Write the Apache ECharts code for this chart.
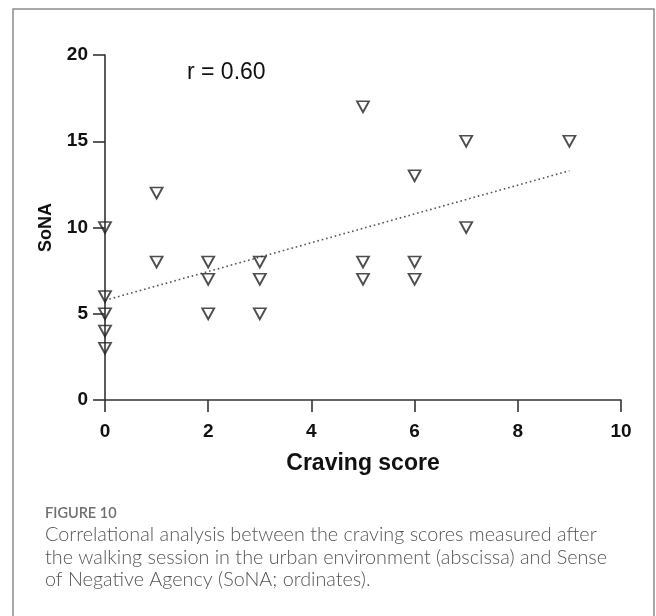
<!DOCTYPE html>
<html>
<head>
<meta charset="utf-8">
<script src="https://cdn.jsdelivr.net/npm/echarts@6/dist/echarts.min.js"></script>
<style>
  html, body { margin: 0; padding: 0; background: #ffffff; }
  #chart { width: 656px; height: 616px; }
</style>
</head>
<body>
<div id="chart"></div>
<script>
// Craving score (abscissa) and SoNA (ordinates), one entry per participant
const cravingScore = [0, 0, 0, 0, 0, 1, 1, 2, 2, 2, 3, 3, 3, 5, 5, 5, 6, 6, 6, 7, 7, 9];
const sonaScore    = [10, 6, 5, 4, 3, 12, 8, 8, 7, 5, 8, 7, 5, 17, 8, 7, 13, 8, 7, 15, 10, 15];

// Fitted regression line end points
const trendX = [0, 9];
const trendY = [5.78, 13.29];

// Axis ranges and tick steps
const xRange = [0, 10];
const xStep = 2;
const yRange = [0, 20];
const yStep = 5;

const corrLabel = 'r = 0.60';
const captionTitle = 'FIGURE 10';
const captionLines = [
  'Correlational analysis between the craving scores measured after',
  'the walking session in the urban environment (abscissa) and Sense',
  'of Negative Agency (SoNA; ordinates).'
];

const points = cravingScore.map((x, i) => [x, sonaScore[i]]);
const trend = trendX.map((x, i) => [x, trendY[i]]);

const axisColor = '#333333';
const axisFont = '"Liberation Sans", Arial, sans-serif';

const chart = echarts.init(document.getElementById('chart'), null, { renderer: 'canvas' });

const captionGraphics = [
  {
    type: 'text', left: 45, top: 506,
    style: { text: captionTitle, font: '600 14.5px Lato, "Open Sans", sans-serif', fill: '#707070' }
  }
].concat(captionLines.map((line, i) => ({
  type: 'text', left: 45, top: 525 + i * 22.3,
  style: { text: line, font: '300 19.8px Lato, "Open Sans", sans-serif', fill: '#555555' }
})));

chart.setOption({
  animation: false,
  backgroundColor: '#ffffff',
  grid: { left: 105, right: 35, top: 55, bottom: 216, containLabel: false },
  xAxis: {
    type: 'value',
    min: xRange[0], max: xRange[1], interval: xStep,
    name: 'Craving score',
    nameLocation: 'middle',
    nameGap: 52,
    nameTextStyle: { fontFamily: axisFont, fontWeight: 'bold', fontSize: 23, color: '#111' },
    axisLine: { show: true, onZero: false, lineStyle: { color: axisColor, width: 1.6 } },
    axisTick: { show: true, length: 12, lineStyle: { color: axisColor, width: 1.6 } },
    axisLabel: { margin: 22, fontFamily: axisFont, fontWeight: 'bold', fontSize: 19, color: '#111' },
    splitLine: { show: false }
  },
  yAxis: {
    type: 'value',
    min: yRange[0], max: yRange[1], interval: yStep,
    name: 'SoNA',
    nameLocation: 'middle',
    nameGap: 50,
    nameRotate: 90,
    nameTextStyle: { fontFamily: axisFont, fontWeight: 'bold', fontSize: 18, color: '#111' },
    axisLine: { show: true, onZero: false, lineStyle: { color: axisColor, width: 1.6 } },
    axisTick: { show: true, length: 12, lineStyle: { color: axisColor, width: 1.6 } },
    axisLabel: { margin: 17, fontFamily: axisFont, fontWeight: 'bold', fontSize: 19, color: '#111' },
    splitLine: { show: false }
  },
  series: [
    {
      name: 'fit',
      type: 'line',
      data: trend,
      showSymbol: false,
      silent: true,
      lineStyle: { color: '#555555', width: 1.6, type: [1.6, 2.9] },
      z: 1
    },
    {
      name: 'participants',
      type: 'scatter',
      data: points,
      clip: false,
      symbol: 'path://M0,0 L12,0 L6,10 Z',
      symbolSize: [12, 11],
      itemStyle: { color: 'rgba(0,0,0,0)', borderColor: '#222222', borderWidth: 1.8 },
      z: 3
    }
  ],
  graphic: [
    {
      type: 'rect', silent: true, z: -10,
      shape: { x: 13, y: 9, width: 641, height: 700 },
      style: { fill: 'none', stroke: '#8c8c8c', lineWidth: 1.5 }
    },
    {
      type: 'text', left: 187, top: 61,
      style: { text: corrLabel, font: '23px "Liberation Sans", Arial, sans-serif', fill: '#111' }
    }
  ].concat(captionGraphics)
});
</script>
</body>
</html>
